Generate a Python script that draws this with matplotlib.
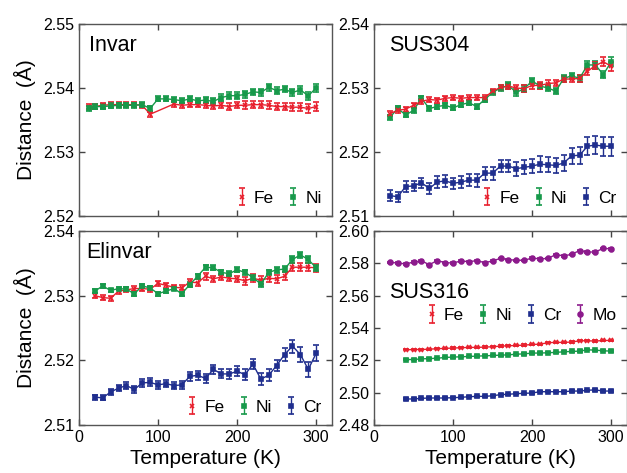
import numpy as np
import matplotlib
matplotlib.use("Agg")
from matplotlib import pyplot as plt

plt.rcParams['font.family'] = ['Liberation Sans', 'DejaVu Sans']

# colours of the elements
RED = '#e8202e'
GREEN = '#17994a'
BLUE = '#1f2e8e'
PURPLE = '#8c1a8c'

# ---------------- Invar ----------------
invar_T_fe = [13, 20, 30, 40, 50, 60, 70, 80, 90, 120, 130, 140, 150, 160, 170, 180, 190,
              200, 210, 220, 230, 240, 250, 260, 270, 280, 290, 300]
invar_fe = [2.5371, 2.5371, 2.5373, 2.5374, 2.5374, 2.5374, 2.5374, 2.5373, 2.5359,
            2.5375, 2.5373, 2.5374, 2.5374, 2.5373, 2.5372, 2.5373, 2.5371, 2.5373, 2.5373,
            2.5374, 2.5374, 2.5373, 2.5371, 2.5371, 2.5370, 2.5370, 2.5368, 2.5371]
invar_fe_err = [0.0004, 0.0004, 0.0004, 0.0004, 0.0004, 0.0004, 0.0004, 0.0004, 0.0004,
                0.0004, 0.0004, 0.0004, 0.0004, 0.0004, 0.0005, 0.0005, 0.0005, 0.0005, 0.0006,
                0.0006, 0.0006, 0.0006, 0.0006, 0.0006, 0.0006, 0.0006, 0.0007, 0.0007]
invar_T_ni = [13, 20, 30, 40, 50, 60, 70, 80, 90, 100, 110, 120, 130, 140, 150, 160, 170,
              180, 190, 200, 210, 220, 230, 240, 250, 260, 270, 280, 290, 300]
invar_ni = [2.5368, 2.5371, 2.5371, 2.5372, 2.5373, 2.5373, 2.5373, 2.5374, 2.5368, 2.5383,
            2.5383, 2.5382, 2.5380, 2.5383, 2.5380, 2.5381, 2.5379, 2.5385, 2.5388, 2.5388,
            2.5390, 2.5394, 2.5393, 2.5401, 2.5396, 2.5398, 2.5393, 2.5397, 2.5388, 2.5400]
invar_ni_err = [0.0004, 0.0004, 0.0004, 0.0004, 0.0004, 0.0004, 0.0004, 0.0004, 0.0004, 0.0004,
                0.0004, 0.0004, 0.0004, 0.0004, 0.0004, 0.0005, 0.0005, 0.0005, 0.0005, 0.0005,
                0.0005, 0.0005, 0.0005, 0.0005, 0.0005, 0.0005, 0.0006, 0.0006, 0.0006, 0.0006]

# ---------------- SUS304 ----------------
sus304_T = [20, 30, 40, 50, 60, 70, 80, 90, 100, 110, 120, 130, 140, 150, 160, 170, 180,
            190, 200, 210, 220, 230, 240, 250, 260, 270, 280, 290, 300]
sus304_fe = [2.5260, 2.5265, 2.5267, 2.5273, 2.5279, 2.5282, 2.5281, 2.5284, 2.5285, 2.5284,
             2.5285, 2.5285, 2.5285, 2.5295, 2.5301, 2.5303, 2.5300, 2.5299, 2.5304, 2.5304,
             2.5307, 2.5308, 2.5314, 2.5314, 2.5315, 2.5326, 2.5335, 2.5341, 2.5334]
sus304_fe_err = [0.0004, 0.0004, 0.0004, 0.0004, 0.0004, 0.0004, 0.0004, 0.0004, 0.0004, 0.0004,
                 0.0004, 0.0004, 0.0004, 0.0004, 0.0004, 0.0004, 0.0005, 0.0005, 0.0005, 0.0005,
                 0.0005, 0.0005, 0.0005, 0.0005, 0.0005, 0.0006, 0.0006, 0.0007, 0.0007]
sus304_ni = [2.5254, 2.5268, 2.5258, 2.5265, 2.5284, 2.5268, 2.5271, 2.5273, 2.5269, 2.5274,
             2.5277, 2.5271, 2.5282, 2.5293, 2.5300, 2.5304, 2.5293, 2.5299, 2.5311, 2.5303,
             2.5300, 2.5295, 2.5315, 2.5319, 2.5315, 2.5336, 2.5336, 2.5321, 2.5341]
sus304_ni_err = [0.0004, 0.0004, 0.0004, 0.0004, 0.0004, 0.0004, 0.0004, 0.0004, 0.0004, 0.0004,
                 0.0004, 0.0004, 0.0004, 0.0004, 0.0004, 0.0005, 0.0005, 0.0005, 0.0005, 0.0005,
                 0.0005, 0.0005, 0.0005, 0.0005, 0.0005, 0.0006, 0.0006, 0.0006, 0.0007]
sus304_cr = [2.5132, 2.5130, 2.5146, 2.5147, 2.5152, 2.5143, 2.5153, 2.5155, 2.5151, 2.5153,
             2.5156, 2.5156, 2.5167, 2.5167, 2.5178, 2.5178, 2.5174, 2.5176, 2.5178, 2.5181,
             2.5180, 2.5179, 2.5183, 2.5194, 2.5195, 2.5209, 2.5211, 2.5209, 2.5209]
sus304_cr_err = [0.0008, 0.0008, 0.0008, 0.0008, 0.0008, 0.0008, 0.0009, 0.0009, 0.0009, 0.0009,
                 0.0009, 0.0010, 0.0010, 0.0010, 0.0010, 0.0010, 0.0011, 0.0011, 0.0011, 0.0012,
                 0.0012, 0.0012, 0.0012, 0.0013, 0.0013, 0.0014, 0.0014, 0.0015, 0.0015]

# ---------------- Elinvar ----------------
elinvar_T = [20, 30, 40, 50, 60, 70, 80, 90, 100, 110, 120, 130, 140, 150, 160, 170, 180,
             190, 200, 210, 220, 230, 240, 250, 260, 270, 280, 290, 300]
elinvar_fe = [2.5300, 2.5297, 2.5296, 2.5307, 2.5309, 2.5311, 2.5311, 2.5310, 2.5319, 2.5316,
              2.5313, 2.5312, 2.5321, 2.5320, 2.5330, 2.5326, 2.5329, 2.5327, 2.5326, 2.5323,
              2.5327, 2.5324, 2.5327, 2.5326, 2.5330, 2.5344, 2.5344, 2.5344, 2.5343]
elinvar_fe_err = [0.0004, 0.0004, 0.0004, 0.0004, 0.0004, 0.0004, 0.0004, 0.0004, 0.0004, 0.0004,
                  0.0004, 0.0004, 0.0005, 0.0005, 0.0005, 0.0005, 0.0005, 0.0005, 0.0005, 0.0006,
                  0.0006, 0.0006, 0.0006, 0.0006, 0.0006, 0.0006, 0.0006, 0.0006, 0.0006]
elinvar_ni = [2.5307, 2.5315, 2.5308, 2.5311, 2.5310, 2.5303, 2.5315, 2.5312, 2.5303, 2.5307,
              2.5311, 2.5303, 2.5317, 2.5330, 2.5344, 2.5343, 2.5336, 2.5334, 2.5340, 2.5336,
              2.5328, 2.5318, 2.5336, 2.5340, 2.5341, 2.5356, 2.5363, 2.5356, 2.5343]
elinvar_ni_err = [0.0003, 0.0003, 0.0003, 0.0003, 0.0003, 0.0003, 0.0003, 0.0003, 0.0003, 0.0003,
                  0.0003, 0.0003, 0.0004, 0.0004, 0.0004, 0.0004, 0.0004, 0.0004, 0.0004, 0.0004,
                  0.0004, 0.0004, 0.0004, 0.0005, 0.0005, 0.0005, 0.0005, 0.0005, 0.0005]
elinvar_cr = [2.5143, 2.5142, 2.5151, 2.5157, 2.5161, 2.5155, 2.5165, 2.5166, 2.5162, 2.5164,
              2.5161, 2.5162, 2.5175, 2.5177, 2.5172, 2.5186, 2.5179, 2.5179, 2.5183, 2.5178,
              2.5194, 2.5171, 2.5177, 2.5192, 2.5209, 2.5222, 2.5209, 2.5186, 2.5211]
elinvar_cr_err = [0.0004, 0.0004, 0.0005, 0.0005, 0.0005, 0.0005, 0.0006, 0.0006, 0.0006, 0.0006,
                  0.0006, 0.0006, 0.0007, 0.0007, 0.0007, 0.0007, 0.0007, 0.0008, 0.0008, 0.0008,
                  0.0008, 0.0009, 0.0009, 0.0009, 0.0010, 0.0010, 0.0011, 0.0012, 0.0012]

# ---------------- SUS316 ----------------
sus316_T = [40, 50, 60, 70, 80, 90, 100, 110, 120, 130, 140, 150, 160, 170, 180, 190, 200,
            210, 220, 230, 240, 250, 260, 270, 280, 290, 300]
sus316_fe = [2.5265, 2.5267, 2.5267, 2.5269, 2.5272, 2.5274, 2.5276, 2.5278, 2.5280, 2.5280,
             2.5282, 2.5284, 2.5288, 2.5290, 2.5292, 2.5294, 2.5298, 2.5300, 2.5309, 2.5311,
             2.5311, 2.5313, 2.5321, 2.5321, 2.5319, 2.5323, 2.5323]
sus316_ni = [2.5205, 2.5205, 2.5209, 2.5211, 2.5213, 2.5218, 2.5220, 2.5222, 2.5224, 2.5226,
             2.5228, 2.5230, 2.5232, 2.5234, 2.5238, 2.5240, 2.5245, 2.5245, 2.5247, 2.5249,
             2.5253, 2.5255, 2.5257, 2.5265, 2.5263, 2.5259, 2.5257]
sus316_cr = [2.4961, 2.4961, 2.4965, 2.4967, 2.4967, 2.4967, 2.4969, 2.4971, 2.4975, 2.4977,
             2.4977, 2.4981, 2.4988, 2.4990, 2.4994, 2.4996, 2.4998, 2.5006, 2.5006, 2.5006,
             2.5006, 2.5010, 2.5010, 2.5015, 2.5017, 2.5010, 2.5010]
sus316_err = [0.0004] * 27
sus316_T_mo = [20, 30, 40, 50, 60, 70, 80, 90, 100, 110, 120, 130, 140, 150, 160, 170, 180,
               190, 200, 210, 220, 230, 240, 250, 260, 270, 280, 290, 300]
sus316_mo = [2.5806, 2.5802, 2.5796, 2.5808, 2.5815, 2.5792, 2.5817, 2.5804, 2.5802, 2.5815,
             2.5810, 2.5817, 2.5804, 2.5815, 2.5831, 2.5823, 2.5819, 2.5819, 2.5833, 2.5827,
             2.5831, 2.5854, 2.5846, 2.5856, 2.5879, 2.5870, 2.5870, 2.5893, 2.5889]
sus316_mo_err = [0.0004] * 29

fig = plt.figure(figsize=(6.27, 4.73), dpi=100)
W, H = 627.0, 473.0
ax_inv = fig.add_axes([79 / W, 1 - 216 / H, 253 / W, 192 / H])
ax_304 = fig.add_axes([374 / W, 1 - 216 / H, 253 / W, 192 / H])
ax_eli = fig.add_axes([79 / W, 1 - 425 / H, 253 / W, 194 / H])
ax_316 = fig.add_axes([374 / W, 1 - 425 / H, 253 / W, 194 / H])


def series(ax, t, y, e, color, marker, label, ms=3.5):
    return ax.errorbar(t, y, yerr=e, color=color, marker=marker, ms=ms, mew=1.2,
                       lw=1.0, elinewidth=1.0, capsize=2, capthick=1.0, label=label)


def style(ax, ylim, yticks, xlabels):
    ax.set_xlim(0, 320)
    ax.set_ylim(*ylim)
    ax.set_yticks(yticks)
    ax.set_xticks([0, 100, 200, 300])
    ax.tick_params(direction='in', top=True, right=True, length=4, width=1,
                   labelsize=11.5, color='#444444')
    if not xlabels:
        ax.tick_params(labelbottom=False)
    else:
        ax.set_xlabel('Temperature (K)', fontsize=15, labelpad=3)
    for s in ax.spines.values():
        s.set_color('#555555')
        s.set_linewidth(1.0)


def legend(ax, handles, labels, ncol, loc, anchor):
    ax.legend(handles, labels, loc=loc, bbox_to_anchor=anchor, ncol=ncol, frameon=False,
              fontsize=12.5, handlelength=0.0, handletextpad=0.7, columnspacing=1.1,
              borderaxespad=0.2)


# Invar
f = series(ax_inv, invar_T_fe, invar_fe, invar_fe_err, RED, 'x', 'Fe')
n = series(ax_inv, invar_T_ni, invar_ni, invar_ni_err, GREEN, 's', 'Ni')
style(ax_inv, (2.52, 2.55), [2.52, 2.53, 2.54, 2.55], False)
ax_inv.text(0.04, 0.89, 'Invar', transform=ax_inv.transAxes, fontsize=15.5, va='center')
ax_inv.set_ylabel('Distance  (Å)', fontsize=15, labelpad=5)
legend(ax_inv, [f, n], ['Fe', 'Ni'], 2, 'lower right', (1.0, 0.0))

# SUS304
n = series(ax_304, sus304_T, sus304_ni, sus304_ni_err, GREEN, 's', 'Ni')
f = series(ax_304, sus304_T, sus304_fe, sus304_fe_err, RED, 'x', 'Fe')
c = series(ax_304, sus304_T, sus304_cr, sus304_cr_err, BLUE, 's', 'Cr')
style(ax_304, (2.51, 2.54), [2.51, 2.52, 2.53, 2.54], False)
ax_304.text(0.06, 0.89, 'SUS304', transform=ax_304.transAxes, fontsize=15.5, va='center')
legend(ax_304, [f, n, c], ['Fe', 'Ni', 'Cr'], 3, 'lower right', (1.0, 0.0))

# Elinvar
f = series(ax_eli, elinvar_T, elinvar_fe, elinvar_fe_err, RED, 'x', 'Fe')
n = series(ax_eli, elinvar_T, elinvar_ni, elinvar_ni_err, GREEN, 's', 'Ni')
c = series(ax_eli, elinvar_T, elinvar_cr, elinvar_cr_err, BLUE, 's', 'Cr')
style(ax_eli, (2.51, 2.54), [2.51, 2.52, 2.53, 2.54], True)
ax_eli.text(0.03, 0.887, 'Elinvar', transform=ax_eli.transAxes, fontsize=15.5, va='center')
ax_eli.set_ylabel('Distance  (Å)', fontsize=15, labelpad=5)
legend(ax_eli, [f, n, c], ['Fe', 'Ni', 'Cr'], 3, 'lower right', (1.0, 0.0))

# SUS316
f = series(ax_316, sus316_T, sus316_fe, sus316_err, RED, 'x', 'Fe')
n = series(ax_316, sus316_T, sus316_ni, sus316_err, GREEN, 's', 'Ni')
c = series(ax_316, sus316_T, sus316_cr, sus316_err, BLUE, 's', 'Cr')
m = series(ax_316, sus316_T_mo, sus316_mo, sus316_mo_err, PURPLE, 'o', 'Mo')
style(ax_316, (2.48, 2.60), [2.48, 2.50, 2.52, 2.54, 2.56, 2.58, 2.60], True)
ax_316.text(0.06, 0.684, 'SUS316', transform=ax_316.transAxes, fontsize=15.5, va='center')
legend(ax_316, [f, n, c, m], ['Fe', 'Ni', 'Cr', 'Mo'], 4, 'center right', (1.0, 0.565))

fig.savefig('out.png', dpi=100)
